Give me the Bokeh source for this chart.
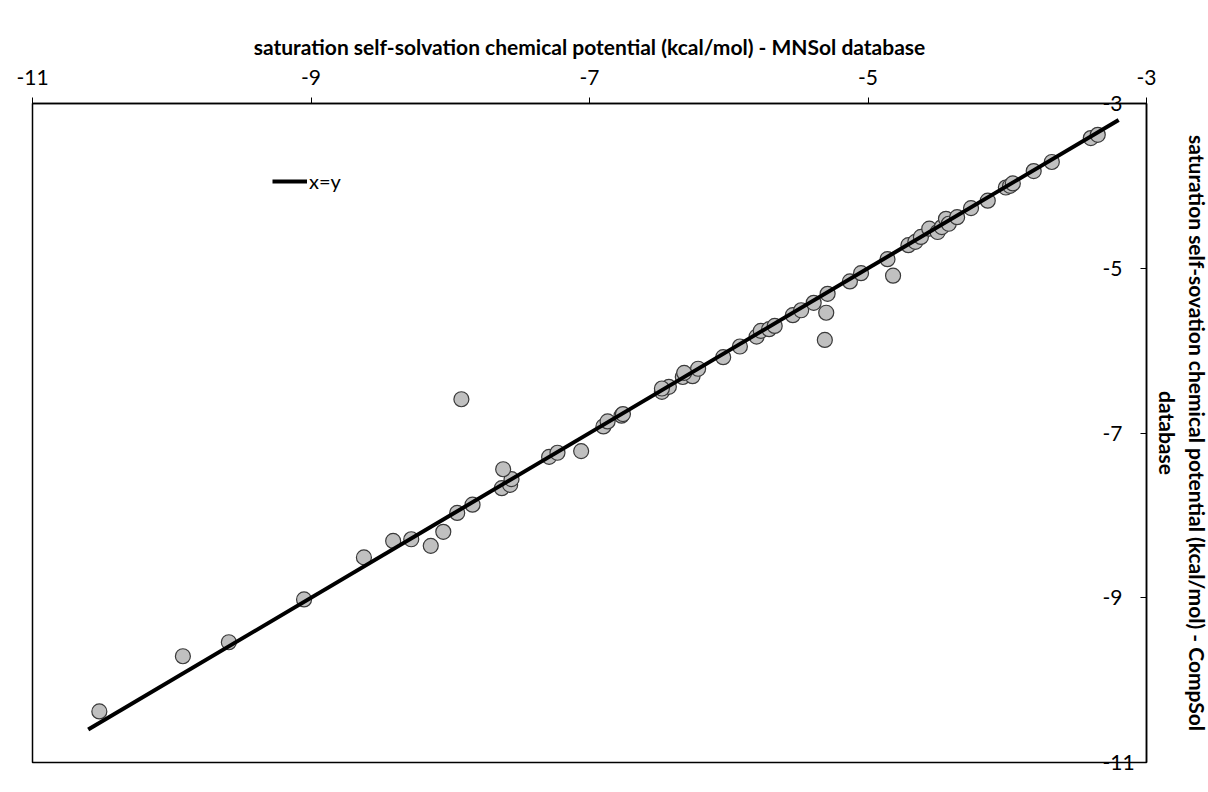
from bokeh.plotting import figure
from bokeh.models import Range1d, LinearAxis, FixedTicker, Legend, LegendItem
from bokeh.embed import file_html
from bokeh.resources import INLINE

# ---- data (kcal/mol) ----
mnsol = [-10.52, -9.92, -9.59, -9.05, -8.62, -8.41, -8.28, -8.14, -8.05, -7.95,
         -7.84, -7.92, -7.63, -7.57, -7.56, -7.62, -7.29, -7.23, -7.06, -6.90,
         -6.87, -6.77, -6.76, -6.48, -6.43, -6.48, -6.33, -6.26, -6.22, -6.32,
         -6.04, -5.92, -5.80, -5.77, -5.71, -5.67, -5.54, -5.48, -5.39, -5.29,
         -5.30, -5.31, -5.13, -5.05, -4.86, -4.82, -4.71, -4.66, -4.62, -4.56,
         -4.50, -4.47, -4.44, -4.42, -4.36, -4.26, -4.14, -4.01, -3.98, -3.96,
         -3.81, -3.68, -3.40, -3.35]
compsol = [-10.38, -9.71, -9.54, -9.02, -8.51, -8.31, -8.29, -8.37, -8.20, -7.97,
           -7.87, -6.59, -7.67, -7.63, -7.56, -7.44, -7.29, -7.24, -7.22, -6.92,
           -6.86, -6.79, -6.77, -6.50, -6.44, -6.46, -6.32, -6.31, -6.22, -6.27,
           -6.08, -5.95, -5.83, -5.76, -5.74, -5.70, -5.57, -5.51, -5.42, -5.31,
           -5.54, -5.87, -5.16, -5.06, -4.89, -5.09, -4.72, -4.68, -4.62, -4.52,
           -4.56, -4.50, -4.40, -4.46, -4.38, -4.27, -4.18, -4.02, -4.00, -3.97,
           -3.82, -3.71, -3.42, -3.38]
line_x = [-10.6, -3.2]
line_y = [-10.6, -3.2]
x_ticks = [-11, -9, -7, -5, -3]
x_tick_labels = ["-11", "-9", "-7", "-5", "-3"]
y_ticks = [-3, -5, -7, -9, -11]
y_tick_labels = ["-3", "-5", "-7", "-9", "-11"]
x_title = "saturation self-solvation chemical potential (kcal/mol) - MNSol database"
y_title = "saturation self-sovation chemical potential (kcal/mol) - CompSol\ndatabase"

FONT = "Lato"

p = figure(frame_width=1114, frame_height=659, x_range=Range1d(-11, -3), y_range=Range1d(-11, -3),
           output_backend="svg", toolbar_location=None,
           x_axis_location=None, y_axis_location=None,
           min_border_left=32, min_border_top=103, min_border_right=4, min_border_bottom=22)
p.grid.visible = False
p.outline_line_color = "#000000"
p.outline_line_width = 1.5
p.background_fill_color = "white"
p.border_fill_color = "white"

# top axis
xa = LinearAxis(ticker=FixedTicker(ticks=x_ticks), axis_label=x_title)
xa.major_label_overrides = dict(zip(x_ticks, x_tick_labels))
xa.axis_line_color = "#000000"
xa.axis_line_width = 1.5
xa.major_tick_out = 6
xa.major_tick_in = 0
xa.major_tick_line_color = "#000000"
xa.minor_tick_line_color = None
xa.major_label_standoff = 13
xa.major_label_text_font = FONT
xa.major_label_text_font_size = "21px"
xa.major_label_text_color = "#000000"
xa.axis_label_text_font = FONT
xa.axis_label_text_font_style = "bold"
xa.axis_label_text_font_size = "21px"
xa.axis_label_text_color = "#000000"
xa.axis_label_standoff = 8
p.add_layout(xa, "above")

# right axis: labels sit inside the plot, left of the axis line
ya = LinearAxis(ticker=FixedTicker(ticks=y_ticks), axis_label=y_title)
ya.major_label_overrides = dict(zip(y_ticks, y_tick_labels))
ya.axis_line_color = "#000000"
ya.axis_line_width = 1.5
ya.major_tick_out = 0
ya.major_tick_in = 6
ya.major_tick_line_color = "#000000"
ya.minor_tick_line_color = None
ya.major_label_standoff = -44
ya.major_label_text_font = FONT
ya.major_label_text_font_size = "21px"
ya.major_label_text_color = "#000000"
ya.axis_label_text_font = FONT
ya.axis_label_text_font_style = "bold"
ya.axis_label_text_font_size = "21px"
ya.axis_label_text_color = "#000000"
ya.axis_label_standoff = 17
p.add_layout(ya, "right")

p.scatter(mnsol, compsol, size=15, fill_color="#c0c0c0", line_color="#3a3a3a", line_width=1.2)
ln = p.line(line_x, line_y, line_color="#000000", line_width=4)

legend = Legend(items=[LegendItem(label="x=y", renderers=[ln])], location=(240, 569))
legend.glyph_width = 35
legend.glyph_height = 20
legend.label_standoff = 2
legend.padding = 0
legend.margin = 0
legend.spacing = 0
legend.border_line_color = None
legend.background_fill_alpha = 0
legend.label_text_font = FONT
legend.label_text_font_size = "20px"
legend.label_text_color = "#000000"
p.add_layout(legend, "center")

open("out.html", "w").write(file_html(p, INLINE))
